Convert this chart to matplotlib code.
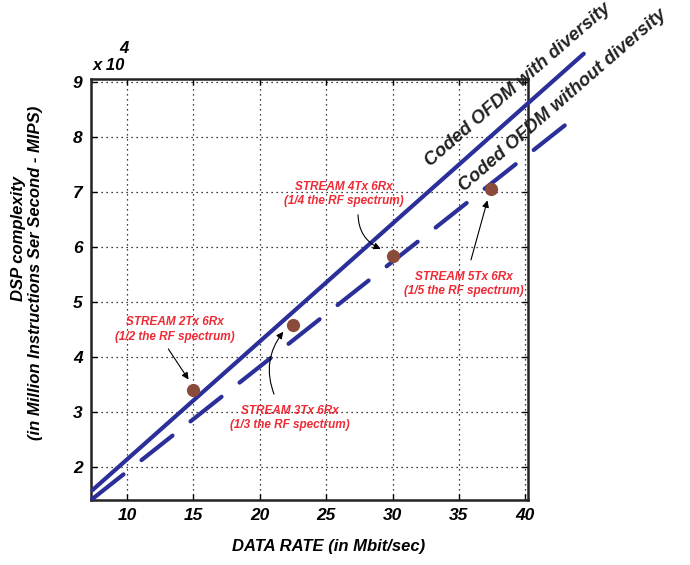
import matplotlib.pyplot as plt

plt.rcParams['font.family'] = ['Liberation Sans', 'DejaVu Sans']
plt.rcParams['font.weight'] = 'bold'
plt.rcParams['font.style'] = 'italic'

# Data (DSP complexity in MIPS, shown on the axis in units of 10^4)
SCALE = 1e4
with_div_x = [7.4, 44.4]
with_div_y = [15800, 95200]
without_div_x = [7.4, 44.3]
without_div_y = [14200, 84700]

stream_rate = [15, 22.5, 30, 37.4]
stream_mips = [34000, 45900, 58400, 70600]
stream_names = ['STREAM 2Tx 6Rx\n(1/2 the RF spectrum)',
                'STREAM 3Tx 6Rx\n(1/3 the RF spectrum)',
                'STREAM 4Tx 6Rx\n(1/4 the RF spectrum)',
                'STREAM 5Tx 6Rx\n(1/5 the RF spectrum)']

# where each label sits, and where its arrow starts / ends
label_pos = [(13.6, 4.50), (22.3, 2.89), (26.3, 6.97), (35.4, 5.33)]
arrow_tail = [(13.0, 4.19), (21.15, 3.28), (27.4, 6.64), (35.85, 5.72)]
arrow_head = [(14.75, 3.55), (21.9, 4.50), (29.3, 5.95), (37.2, 6.90)]
arrow_rad = [0.0, -0.3, 0.35, 0.0]

navy = '#2b2f99'
red = '#ee2a35'
brown = '#8a4b3a'

fig = plt.figure(figsize=(6.9, 5.65), dpi=100)
ax = fig.add_axes([91 / 690, 1 - 500 / 565, 437 / 690, 421 / 565])

# The two complexity lines run a little past the box, like the original
ax.plot(with_div_x, [v / SCALE for v in with_div_y], color=navy, lw=3,
        solid_capstyle='round', clip_on=False, zorder=3)
ax.plot(without_div_x, [v / SCALE for v in without_div_y], color=navy, lw=3,
        dashes=(9.5, 5.5), dash_capstyle='round', clip_on=False, zorder=3)

# Stream points
ax.plot(stream_rate, [v / SCALE for v in stream_mips], 'o', color=brown,
        markersize=9.5, markeredgewidth=0, zorder=4)

for name, pos, tail, head, rad in zip(stream_names, label_pos, arrow_tail,
                                      arrow_head, arrow_rad):
    ax.text(pos[0], pos[1], name, color=red, fontsize=8.5, ha='center',
            va='center', linespacing=1.3)
    ax.annotate('', xy=head, xytext=tail,
                arrowprops=dict(arrowstyle='-|>', color='black', lw=0.8,
                                mutation_scale=10,
                                connectionstyle=f'arc3,rad={rad}'))

# Line labels
ax.text(39.45, 8.95, 'Coded OFDM with diversity', rotation=41, fontsize=13.3,
        ha='center', va='center', rotation_mode='anchor', clip_on=False,
        color='#222222')
ax.text(42.8, 8.66, 'Coded OFDM without diversity', rotation=41, fontsize=13.3,
        ha='center', va='center', rotation_mode='anchor', clip_on=False,
        color='#222222')

ax.set_xlim(7.29, 40.2)
ax.set_ylim(1.4, 9.06)
ax.set_xticks([10, 15, 20, 25, 30, 35, 40])
ax.set_yticks([2, 3, 4, 5, 6, 7, 8, 9])
ax.tick_params(direction='in', top=True, right=True, length=4, width=1,
               labelsize=12.5, pad=6)
ax.grid(True, linestyle=(0, (1, 3)), color='black', lw=0.9)
for s in ax.spines.values():
    s.set_linewidth(1.8)
    s.set_color('#222222')

ax.text(0.003, 1.022, 'x 10', transform=ax.transAxes, fontsize=12,
        ha='left', va='baseline')
ax.text(0.064, 1.062, '4', transform=ax.transAxes, fontsize=12,
        ha='left', va='baseline')

fig.text(329 / 690, 1 - 547 / 565, 'DATA RATE (in Mbit/sec)', fontsize=12,
         ha='center', va='center')
fig.text(19 / 690, 1 - 238 / 565, 'DSP complexity', fontsize=12,
         rotation=90, ha='center', va='center')
fig.text(36 / 690, 1 - 273 / 565, '(in Million Instructions Ser Second - MIPS)',
         fontsize=12, rotation=90, ha='center', va='center')

fig.savefig('out.png', dpi=100)
